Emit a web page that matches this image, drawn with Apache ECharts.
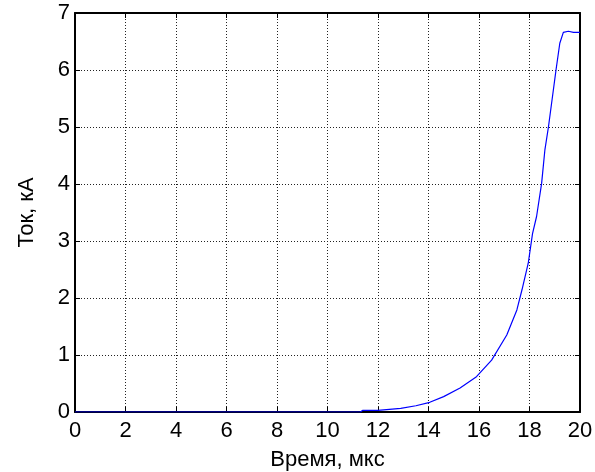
<!DOCTYPE html>
<html>
<head>
<meta charset="utf-8">
<script src="https://cdn.jsdelivr.net/npm/echarts@6/dist/echarts.min.js"></script>
<style>
  html, body { margin: 0; padding: 0; background: #fff; }
  #chart { width: 595px; height: 472px; }
</style>
</head>
<body>
<div id="chart"></div>
<script>
// время, мкс
var timeUs = [0, 2, 4, 6, 8, 10, 11.3, 11.4, 12, 12.9, 13.5, 14.05, 14.6, 15.25, 15.9, 16.5,
  17.1, 17.5, 17.7, 17.95, 18.12, 18.28, 18.48, 18.61, 18.75, 19.05, 19.2, 19.34, 19.54, 19.74, 20];
// ток, кА
var currentKA = [0, 0, 0, 0, 0, 0, 0, 0.03, 0.03, 0.065, 0.11, 0.17, 0.27, 0.42, 0.62, 0.91,
  1.35, 1.79, 2.14, 2.61, 3.13, 3.43, 4.01, 4.6, 5.0, 6.0, 6.47, 6.66, 6.68, 6.66, 6.66];
var xTicks = [0, 20, 2];
var yTicks = [0, 7, 1];

var points = timeUs.map(function (t, i) { return [t, currentKA[i]]; });

var font = 'Liberation Sans, Arial, sans-serif';
var gridLine = { show: true, lineStyle: { color: '#222', type: [1, 2], width: 1 } };
var frame = { show: true, onZero: false, lineStyle: { color: '#000', width: 2 } };
var ticks = { show: true, inside: true, length: 5, lineStyle: { color: '#000', width: 1 } };

var chart = echarts.init(document.getElementById('chart'));
chart.setOption({
  animation: false,
  grid: { left: 75, right: 15, top: 13, bottom: 60, outerBoundsMode: 'none', containLabel: false },
  xAxis: [{
    type: 'value', min: xTicks[0], max: xTicks[1], interval: xTicks[2],
    name: 'Время, мкс', nameLocation: 'middle', nameGap: 37,
    nameTextStyle: { color: '#000', fontSize: 22, fontFamily: font },
    axisLine: frame, axisTick: ticks, splitLine: gridLine,
    axisLabel: { color: '#000', fontSize: 22, fontFamily: font, margin: 8 }
  }, {
    type: 'value', position: 'top', min: xTicks[0], max: xTicks[1], interval: xTicks[2],
    axisLine: frame, axisTick: ticks, splitLine: { show: false }, axisLabel: { show: false }
  }],
  yAxis: [{
    type: 'value', min: yTicks[0], max: yTicks[1], interval: yTicks[2],
    name: 'Ток, кА', nameLocation: 'middle', nameGap: 37,
    nameTextStyle: { color: '#000', fontSize: 22, fontFamily: font },
    axisLine: frame, axisTick: ticks, splitLine: gridLine,
    axisLabel: { color: '#000', fontSize: 22, fontFamily: font, margin: 5 }
  }, {
    type: 'value', position: 'right', min: yTicks[0], max: yTicks[1], interval: yTicks[2],
    axisLine: frame, axisTick: ticks, splitLine: { show: false }, axisLabel: { show: false }
  }],
  series: [{
    type: 'line', data: points, showSymbol: false, smooth: false,
    lineStyle: { color: '#0000ff', width: 1.2 }
  }]
});
</script>
</body>
</html>
